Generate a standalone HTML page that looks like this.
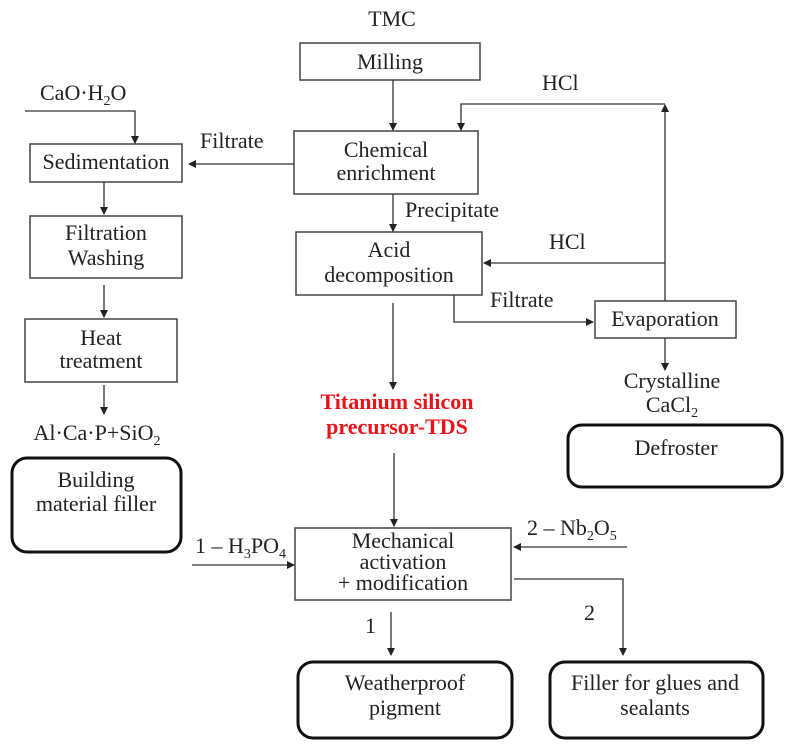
<!DOCTYPE html>
<html><head><style>body{margin:0;background:#fff}svg{display:block}text{font-family:"Liberation Serif",serif;font-size:22px;fill:#222}</style></head><body>
<svg width="794" height="750" viewBox="0 0 794 750">
<defs><marker id="a" markerWidth="8" markerHeight="8" refX="7" refY="4" orient="auto" markerUnits="userSpaceOnUse"><path d="M0,0 L8,4 L0,8 z" fill="#222"/></marker></defs>
<g fill="none" stroke="#444" stroke-width="1.5">
<rect x="300" y="43" width="180" height="37"/>
<rect x="294" y="131" width="184" height="63"/>
<rect x="30" y="144" width="152" height="38"/>
<rect x="30" y="216" width="152" height="62"/>
<rect x="25" y="319" width="152" height="63"/>
<rect x="296" y="232" width="186" height="63"/>
<rect x="595" y="301" width="141" height="37"/>
<rect x="295" y="528" width="216" height="72"/>
</g>
<g fill="none" stroke="#111" stroke-width="3">
<rect x="12" y="458" width="169" height="94" rx="15"/>
<rect x="568" y="425" width="214" height="62" rx="14"/>
<rect x="298" y="662" width="214" height="76" rx="15"/>
<rect x="550" y="662" width="213" height="76" rx="15"/>
</g>
<g fill="none" stroke="#333" stroke-width="1.3" marker-end="url(#a)">
<path d="M393 80 V130"/>
<path d="M393 194 V231"/>
<path d="M25 111 H135 V143"/>
<path d="M294 164 H189"/>
<path d="M104 182 V214"/>
<path d="M104 285 V317"/>
<path d="M104 385 V414"/>
<path d="M665 301 V105"/>
<path d="M665 104 H461 V130"/>
<path d="M665 263 H484"/>
<path d="M454 295 V322 H593"/>
<path d="M665 338 V370"/>
<path d="M393 303 V389"/>
<path d="M394 453 V526"/>
<path d="M192 565 H294"/>
<path d="M627 547 H514"/>
<path d="M514 579 H623 V655"/>
<path d="M391 612 V655"/>
</g>
<text x="392" y="26" text-anchor="middle">TMC</text>
<text x="390" y="69" text-anchor="middle">Milling</text>
<text x="386" y="157" text-anchor="middle">Chemical</text>
<text x="386" y="180" text-anchor="middle">enrichment</text>
<text x="106" y="169" text-anchor="middle">Sedimentation</text>
<text x="106" y="240" text-anchor="middle">Filtration</text>
<text x="106" y="265" text-anchor="middle">Washing</text>
<text x="101" y="345" text-anchor="middle">Heat</text>
<text x="101" y="368" text-anchor="middle">treatment</text>
<text x="97" y="440" text-anchor="middle">Al·Ca·P+SiO<tspan font-size="14" dy="5">2</tspan></text>
<text x="96" y="487" text-anchor="middle" font-size="24">Building</text>
<text x="96" y="511" text-anchor="middle" font-size="24">material filler</text>
<text x="389" y="257" text-anchor="middle">Acid</text>
<text x="389" y="282" text-anchor="middle">decomposition</text>
<text x="665" y="326" text-anchor="middle">Evaporation</text>
<text x="40" y="100">CaO·H<tspan font-size="14" dy="5">2</tspan><tspan dy="-5">O</tspan></text>
<text x="200" y="148">Filtrate</text>
<text x="542" y="90">HCl</text>
<text x="549" y="249">HCl</text>
<text x="405" y="217">Precipitate</text>
<text x="490" y="307">Filtrate</text>
<text x="672" y="388" text-anchor="middle">Crystalline</text>
<text x="672" y="412" text-anchor="middle">CaCl<tspan font-size="14" dy="5">2</tspan></text>
<text x="676" y="455" text-anchor="middle" font-size="26">Defroster</text>
<text x="397" y="409" text-anchor="middle" font-weight="bold" font-size="22" style="fill:#e8141a">Titanium silicon</text>
<text x="397" y="434" text-anchor="middle" font-weight="bold" font-size="22" style="fill:#e8141a">precursor-TDS</text>
<text x="403" y="548" text-anchor="middle">Mechanical</text>
<text x="403" y="569" text-anchor="middle">activation</text>
<text x="403" y="590" text-anchor="middle">+ modification</text>
<text x="195" y="553">1 – H<tspan font-size="14" dy="5">3</tspan><tspan dy="-5">PO</tspan><tspan font-size="14" dy="5">4</tspan></text>
<text x="527" y="535">2 – Nb<tspan font-size="14" dy="5">2</tspan><tspan dy="-5">O</tspan><tspan font-size="14" dy="5">5</tspan></text>
<text x="365" y="633">1</text>
<text x="584" y="620">2</text>
<text x="405" y="690" text-anchor="middle">Weatherproof</text>
<text x="405" y="715" text-anchor="middle">pigment</text>
<text x="655" y="690" text-anchor="middle">Filler for glues and</text>
<text x="655" y="715" text-anchor="middle">sealants</text>
</svg>
</body></html>
